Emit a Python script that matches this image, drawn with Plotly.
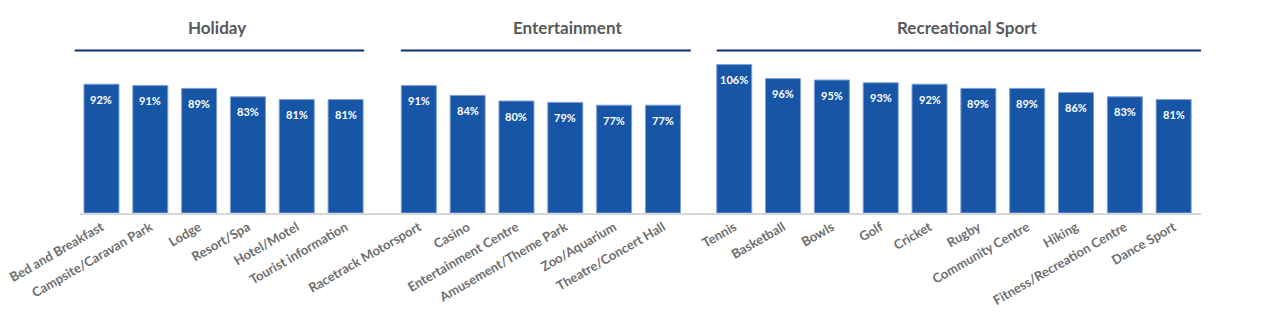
import plotly.graph_objects as go

# ---- data ----
holiday_labels = ["Bed and Breakfast", "Campsite/Caravan Park", "Lodge", "Resort/Spa",
                  "Hotel/Motel", "Tourist information"]
holiday_values = [92, 91, 89, 83, 81, 81]

entertainment_labels = ["Racetrack Motorsport", "Casino", "Entertainment Centre",
                        "Amusement/Theme Park", "Zoo/Aquarium", "Theatre/Concert Hall"]
entertainment_values = [91, 84, 80, 79, 77, 77]

sport_labels = ["Tennis", "Basketball", "Bowls", "Golf", "Cricket", "Rugby",
                "Community Centre", "Hiking", "Fitness/Recreation Centre", "Dance Sport"]
sport_values = [106, 96, 95, 93, 92, 89, 89, 86, 83, 81]

group_names = ["Holiday", "Entertainment", "Recreational Sport"]

# ---- layout helpers ----
groups = [(holiday_labels, holiday_values),
          (entertainment_labels, entertainment_values),
          (sport_labels, sport_values)]
group_offsets = [0, 6.5, 12.96]

xs, labels, values = [], [], []
for (lab, val), off in zip(groups, group_offsets):
    for i, (l, v) in enumerate(zip(lab, val)):
        xs.append(off + i)
        labels.append(l)
        values.append(v)

X_RANGE = [-0.44, 22.52]


def to_paper(x):
    return (x - X_RANGE[0]) / (X_RANGE[1] - X_RANGE[0])


BAR_COLOR = "#1756a6"
HEAD_LINE = "#0e2e72"
HEAD_TEXT = "#595959"
TICK_TEXT = "#6e6e6e"

fig = go.Figure()
fig.add_trace(go.Bar(
    x=xs, y=values, width=0.717,
    marker=dict(color=BAR_COLOR, line=dict(color="#7f9fd4", width=1)),
    hoverinfo="skip",
))

annotations = []
for x, v in zip(xs, values):
    annotations.append(dict(
        x=x, y=v, xref="x", yref="y", text=f"{v}%", showarrow=False,
        yshift=-15, yanchor="middle", xanchor="center",
        font=dict(family="Lato", size=11, color="white", weight="bold"),
    ))

# group headers: line extents and text centres in x-axis units
line_extents = [(-0.55, 5.38), (6.13, 12.07), (12.6, 22.52)]
text_centres = [2.37, 9.54, 17.73]
shapes = []
for name, (a, b), c in zip(group_names, line_extents, text_centres):
    shapes.append(dict(type="line", xref="paper", yref="paper",
                       x0=to_paper(a), x1=to_paper(b), y0=0.968, y1=0.968,
                       line=dict(color=HEAD_LINE, width=2)))
    annotations.append(dict(x=to_paper(c), y=1.103, xref="paper", yref="paper",
                            text=name, showarrow=False, xanchor="center", yanchor="middle",
                            font=dict(family="Lato", size=17, color=HEAD_TEXT, weight="bold")))

fig.update_layout(
    width=1280, height=330,
    margin=dict(l=80, r=79, t=45, b=117),
    paper_bgcolor="white", plot_bgcolor="white",
    showlegend=False,
    xaxis=dict(range=X_RANGE, tickmode="array", tickvals=xs, ticktext=labels,
               tickangle=-30, showgrid=False, zeroline=False, automargin=False,
               showline=True, linecolor="#d6d6d6", linewidth=1.5, ticks="",
               tickfont=dict(family="Lato", size=13, color=TICK_TEXT, weight="bold")),
    yaxis=dict(range=[0, 120], visible=False, showgrid=False, zeroline=False,
               automargin=False),
    shapes=shapes,
    annotations=annotations,
)

fig.write_html("out.html")
